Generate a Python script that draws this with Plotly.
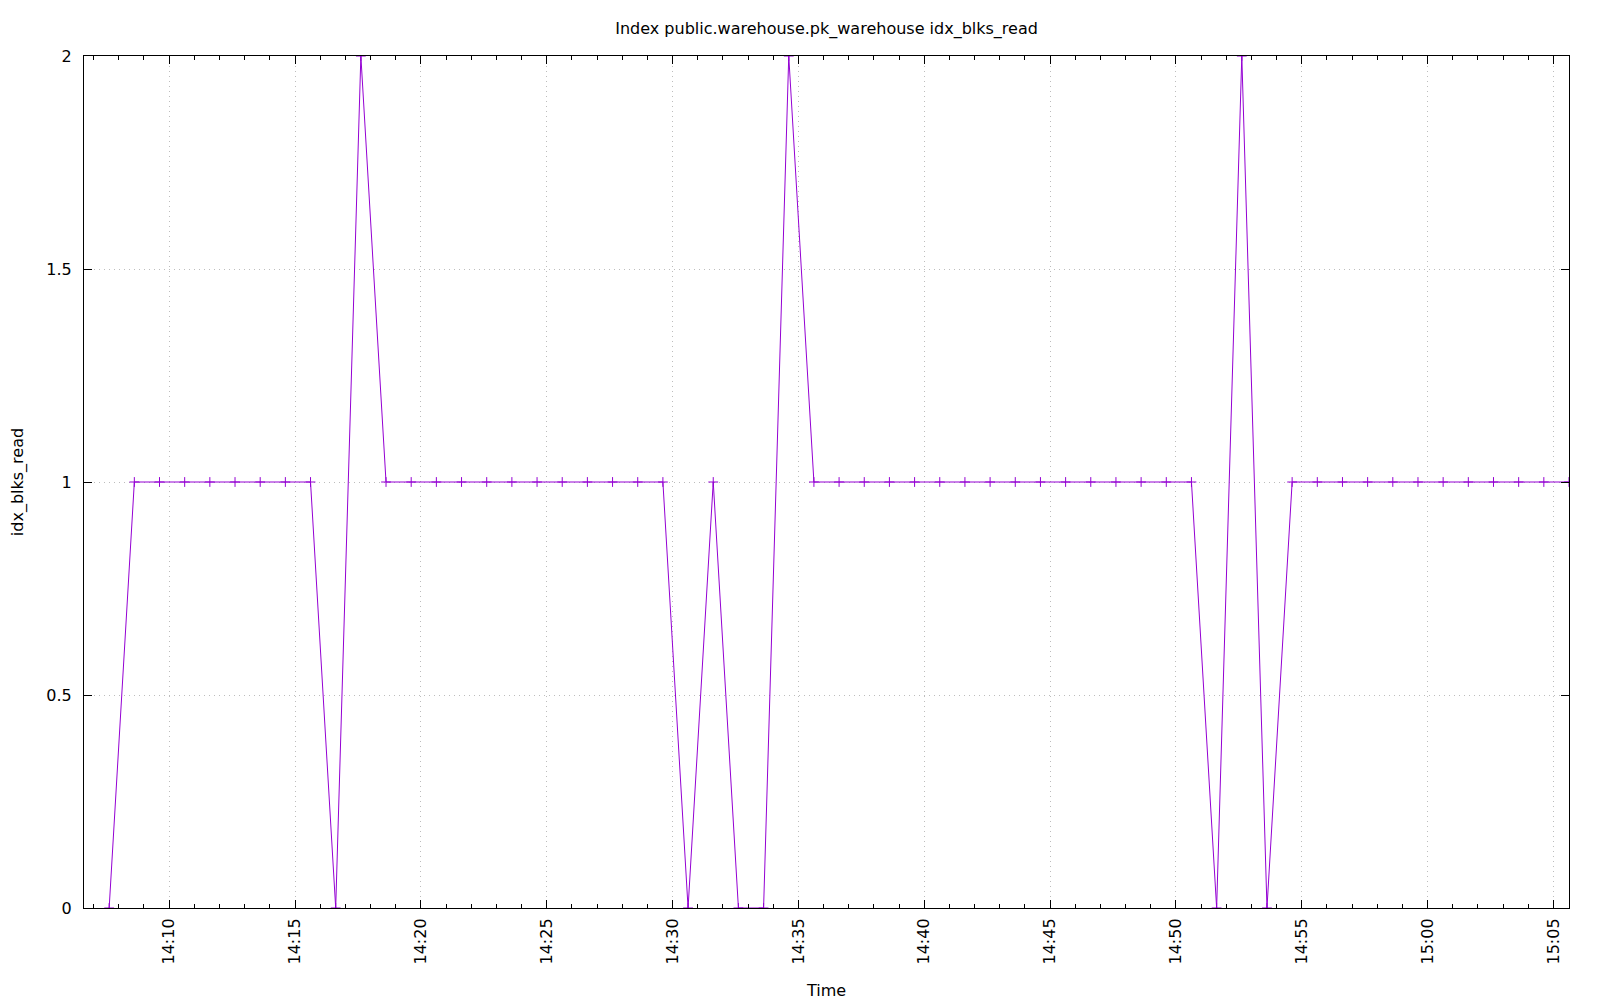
import plotly.graph_objects as go

times = [
    "2024-01-01 14:07:37", "2024-01-01 14:08:37", "2024-01-01 14:09:37", "2024-01-01 14:10:37",
    "2024-01-01 14:11:37", "2024-01-01 14:12:37", "2024-01-01 14:13:37", "2024-01-01 14:14:37",
    "2024-01-01 14:15:37", "2024-01-01 14:16:37", "2024-01-01 14:17:37", "2024-01-01 14:18:37",
    "2024-01-01 14:19:37", "2024-01-01 14:20:37", "2024-01-01 14:21:37", "2024-01-01 14:22:37",
    "2024-01-01 14:23:37", "2024-01-01 14:24:37", "2024-01-01 14:25:37", "2024-01-01 14:26:37",
    "2024-01-01 14:27:37", "2024-01-01 14:28:37", "2024-01-01 14:29:37", "2024-01-01 14:30:37",
    "2024-01-01 14:31:37", "2024-01-01 14:32:37", "2024-01-01 14:33:37", "2024-01-01 14:34:37",
    "2024-01-01 14:35:37", "2024-01-01 14:36:37", "2024-01-01 14:37:37", "2024-01-01 14:38:37",
    "2024-01-01 14:39:37", "2024-01-01 14:40:37", "2024-01-01 14:41:37", "2024-01-01 14:42:37",
    "2024-01-01 14:43:37", "2024-01-01 14:44:37", "2024-01-01 14:45:37", "2024-01-01 14:46:37",
    "2024-01-01 14:47:37", "2024-01-01 14:48:37", "2024-01-01 14:49:37", "2024-01-01 14:50:37",
    "2024-01-01 14:51:37", "2024-01-01 14:52:37", "2024-01-01 14:53:37", "2024-01-01 14:54:37",
    "2024-01-01 14:55:37", "2024-01-01 14:56:37", "2024-01-01 14:57:37", "2024-01-01 14:58:37",
    "2024-01-01 14:59:37", "2024-01-01 15:00:37", "2024-01-01 15:01:37", "2024-01-01 15:02:37",
    "2024-01-01 15:03:37", "2024-01-01 15:04:37", "2024-01-01 15:05:37",
]

idx_blks_read = [
    0, 1, 1, 1, 1, 1, 1, 1, 1, 0,
    2, 1, 1, 1, 1, 1, 1, 1, 1, 1,
    1, 1, 1, 0, 1, 0, 0, 2, 1, 1,
    1, 1, 1, 1, 1, 1, 1, 1, 1, 1,
    1, 1, 1, 1, 0, 2, 0, 1, 1, 1,
    1, 1, 1, 1, 1, 1, 1, 1, 1,
]

y_ticks = [0, 0.5, 1, 1.5, 2]
y_tick_labels = ["0", "0.5", "1", "1.5", "2"]

x_range = ["2024-01-01 14:06:37", "2024-01-01 15:05:37"]

color = "#9400D3"
font = "DejaVu Sans"
grid_dash = "1px,4px"

fig = go.Figure()
fig.add_trace(go.Scatter(
    x=times, y=idx_blks_read, mode="lines+markers",
    line=dict(color=color, width=1),
    marker=dict(symbol="cross-thin-open", size=7, line=dict(color=color, width=1), color=color),
    cliponaxis=True, showlegend=False,
))

fig.update_layout(
    width=1600, height=1000,
    paper_bgcolor="white", plot_bgcolor="white",
    margin=dict(l=84, r=31, t=56, b=92, autoexpand=False),
    font=dict(family=font, size=16, color="black"),
    title=dict(text="Index public.warehouse.pk_warehouse idx_blks_read",
               x=0.5166, xanchor="center", y=0.9715, yanchor="middle",
               font=dict(size=16)),
)

fig.update_xaxes(
    type="date", range=x_range, automargin=False,
    tick0="2024-01-01 14:00:00", dtick=300000, tickformat="%H:%M",
    tickangle=-90, ticks="inside", ticklen=8, tickcolor="black", tickwidth=1,
    showline=True, linecolor="black", linewidth=1, mirror="allticks",
    showgrid=True, gridcolor="#bdbdbd", griddash=grid_dash, gridwidth=1,
    zeroline=False, ticklabelstandoff=3,
    minor=dict(ticks="inside", dtick=60000, tick0="2024-01-01 14:00:00", ticklen=4,
               tickcolor="black", showgrid=False),
    title=dict(text="Time", standoff=21, font=dict(size=16)),
)

fig.update_yaxes(
    range=[0, 2], tickvals=y_ticks, ticktext=y_tick_labels, automargin=False,
    ticks="inside", ticklen=8, tickcolor="black", tickwidth=1,
    showline=True, linecolor="black", linewidth=1, mirror="allticks",
    showgrid=True, gridcolor="#bdbdbd", griddash=grid_dash, gridwidth=1,
    zeroline=False, ticklabelstandoff=8,
    title=dict(text="idx_blks_read", standoff=18, font=dict(size=16)),
)

# remove the browser's default 8px body margin so the figure fills the window
fig.write_html("out.html", config={"displayModeBar": False},
               post_script="document.body.style.margin='0';")
